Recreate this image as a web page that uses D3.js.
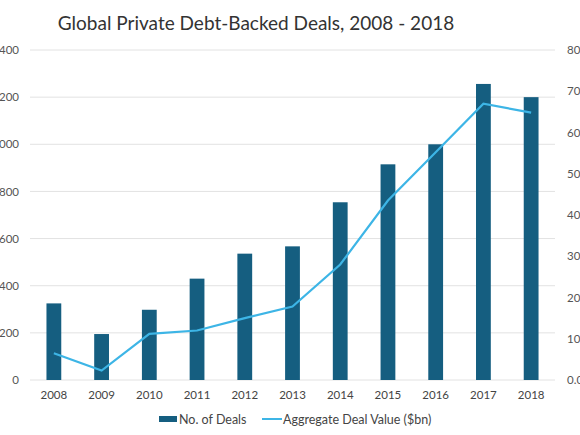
<!DOCTYPE html>
<html>
<head>
<meta charset="utf-8">
<script src="https://cdn.jsdelivr.net/npm/d3@7"></script>
<style>
  body { margin: 0; background: #fff; }
  svg { display: block; font-family: Lato, "Noto Sans", sans-serif; }
</style>
</head>
<body>
<svg id="chart" width="580" height="435"></svg>
<script>
// values
var years = ["2008", "2009", "2010", "2011", "2012", "2013", "2014", "2015", "2016", "2017", "2018"];
var deals = [325, 195, 298, 430, 536, 567, 754, 915, 1000, 1256, 1200];
var dealValue = [6.5, 2.3, 11.2, 12.0, 15.0, 17.8, 28.0, 43.5, 55.2, 67.0, 64.8];
var leftTicks = [0, 200, 400, 600, 800, 1000, 1200, 1400];
var rightTicks = [0, 10, 20, 30, 40, 50, 60, 70, 80];

var barColor = "#155e80",
    lineColor = "#3db5e6";

var svg = d3.select("#chart");
var plotLeft = 30, plotRight = 555, plotTop = 50, plotBottom = 380;

var x = d3.scaleBand().domain(years).range([plotLeft, plotRight]).paddingInner(0.69).paddingOuter(0.345);
var yL = d3.scaleLinear().domain([0, 1400]).range([plotBottom, plotTop]);
var yR = d3.scaleLinear().domain([0, 80]).range([plotBottom, plotTop]);

var font = "Lato, 'Noto Sans', sans-serif";

// title
svg.append("text")
    .attr("x", 256).attr("y", 30)
    .attr("text-anchor", "middle")
    .attr("font-size", 19)
    .attr("fill", "#333")
    .text("Global Private Debt-Backed Deals, 2008 - 2018");

// gridlines
svg.append("g").selectAll("line")
    .data(leftTicks)
    .join("line")
    .attr("x1", plotLeft).attr("x2", plotRight)
    .attr("y1", d => yL(d)).attr("y2", d => yL(d))
    .attr("stroke", "#e2e2e2")
    .attr("stroke-width", 1);

// left axis (labels run off the left edge, as in the source)
var axL = svg.append("g")
    .attr("transform", "translate(19,0)")
    .call(d3.axisLeft(yL).tickValues(leftTicks).tickFormat(d3.format(",")).tickSize(0).tickPadding(0));
axL.select(".domain").remove();
axL.selectAll("text").attr("font-size", 11.5).attr("fill", "#555").attr("font-family", font);

// right axis (labels run off the right edge)
var axR = svg.append("g")
    .attr("transform", "translate(567,0)")
    .call(d3.axisRight(yR).tickValues(rightTicks).tickFormat(d3.format(".1f")).tickSize(0).tickPadding(0));
axR.select(".domain").remove();
axR.selectAll("text").attr("font-size", 11.5).attr("fill", "#555").attr("font-family", font);

// x axis
var axX = svg.append("g")
    .attr("transform", "translate(0," + (plotBottom + 11) + ")")
    .call(d3.axisBottom(x).tickSize(0).tickPadding(0));
axX.select(".domain").remove();
axX.selectAll("text").attr("font-size", 11.5).attr("fill", "#444").attr("font-family", font);

// bars
svg.append("g").selectAll("rect")
    .data(deals)
    .join("rect")
    .attr("x", (d, i) => x(years[i]))
    .attr("width", x.bandwidth())
    .attr("y", d => yL(d))
    .attr("height", d => plotBottom - yL(d))
    .attr("fill", barColor);

// line
var line = d3.line()
    .x((d, i) => x(years[i]) + x.bandwidth() / 2)
    .y(d => yR(d));
svg.append("path")
    .datum(dealValue)
    .attr("d", line)
    .attr("fill", "none")
    .attr("stroke", lineColor)
    .attr("stroke-width", 2.2);

// legend
var lg = svg.append("g").attr("font-size", 12.5).attr("fill", "#444");
lg.append("rect").attr("x", 159).attr("y", 416).attr("width", 18).attr("height", 6).attr("fill", barColor);
lg.append("text").attr("x", 179).attr("y", 423.5).text("No. of Deals");
lg.append("line").attr("x1", 262).attr("x2", 282).attr("y1", 419).attr("y2", 419)
    .attr("stroke", lineColor).attr("stroke-width", 2);
lg.append("text").attr("x", 283).attr("y", 423.5).text("Aggregate Deal Value ($bn)");
</script>
</body>
</html>
